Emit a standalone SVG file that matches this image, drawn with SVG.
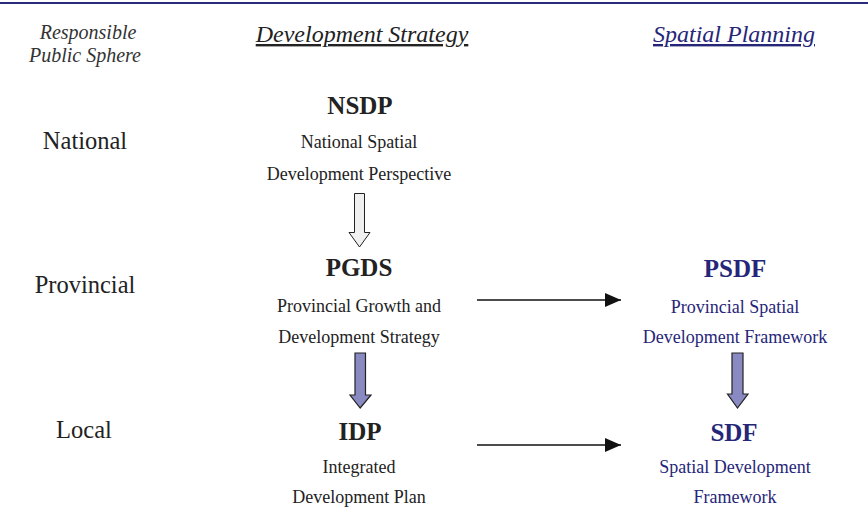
<svg xmlns="http://www.w3.org/2000/svg" width="868" height="519" viewBox="0 0 868 519">
<style>
text{font-family:"Liberation Serif","Times New Roman",serif;text-anchor:middle}
.hd{font-size:24px;font-style:italic;text-decoration:underline}
.rp{font-size:20px;font-style:italic;fill:#333}
.lvl{font-size:24.5px;fill:#222}
.ab{font-size:25px;font-weight:bold;fill:#222}
.ds{font-size:18px;fill:#222}
.blue{fill:#262678}
.open{fill:#f0f0f0;stroke:#222;stroke-width:1}
.purp{fill:#8a8ac2;stroke:#222;stroke-width:1.2}
.conn{stroke:#111;stroke-width:1.3;fill:none}
</style>
<defs>
<marker id="ah" markerWidth="16" markerHeight="14" refX="16" refY="7" orient="auto" markerUnits="userSpaceOnUse">
<path d="M0,0 L16,7 L0,14 Z" fill="#111"/>
</marker>
</defs>
<rect width="868" height="519" fill="#fff"/>
<line x1="0" y1="3" x2="868" y2="3" stroke="#2a2a7a" stroke-width="2"/>
<g id="headers">
<text class="rp" x="88" y="39">Responsible</text>
<text class="rp" x="85" y="62">Public Sphere</text>
<text class="hd" x="362" y="42" fill="#222">Development Strategy</text>
<text class="hd blue" x="734" y="42">Spatial Planning</text>
</g>
<g id="levels">
<text class="lvl" x="85" y="149">National</text>
<text class="lvl" x="85" y="293">Provincial</text>
<text class="lvl" x="84" y="438">Local</text>
</g>
<g id="nsdp">
<text class="ab" x="360" y="114">NSDP</text>
<text class="ds" x="359" y="148">National Spatial</text>
<text class="ds" x="359" y="180">Development Perspective</text>
</g>
<g id="pgds">
<text class="ab" x="359" y="276">PGDS</text>
<text class="ds" x="359" y="312">Provincial Growth and</text>
<text class="ds" x="359" y="343">Development Strategy</text>
</g>
<g id="idp">
<text class="ab" x="360" y="440">IDP</text>
<text class="ds" x="359" y="473">Integrated</text>
<text class="ds" x="359" y="503">Development Plan</text>
</g>
<g id="psdf">
<text class="ab blue" x="735" y="277">PSDF</text>
<text class="ds blue" x="735" y="313">Provincial Spatial</text>
<text class="ds blue" x="735" y="343">Development Framework</text>
</g>
<g id="sdf">
<text class="ab blue" x="734" y="441">SDF</text>
<text class="ds blue" x="735" y="473">Spatial Development</text>
<text class="ds blue" x="735" y="503">Framework</text>
</g>
<g id="connectors">
<path class="open" d="M354.5,193.5 H364.5 V232.5 H370 L359.5,247 L349,232.5 H354.5 Z"/>
<path class="purp" d="M355,353 H365.5 V395 H371 L360.2,408 L350,395 H355 Z"/>
<path class="purp" d="M732,353 H743 V394 H748 L737.5,408 L727.5,394 H732 Z"/>
<line class="conn" x1="477" y1="300" x2="621" y2="300" marker-end="url(#ah)"/>
<line class="conn" x1="477" y1="445" x2="621" y2="445" marker-end="url(#ah)"/>
</g>
</svg>
